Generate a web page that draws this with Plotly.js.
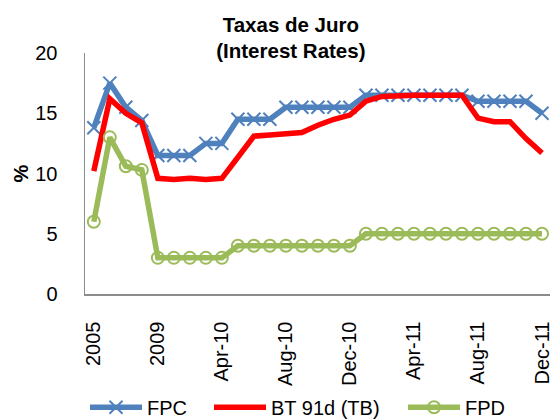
<!DOCTYPE html>
<html>
<head>
<meta charset="utf-8">
<script src="https://cdn.plot.ly/plotly-3.0.1.min.js"></script>
<style>html,body{margin:0;padding:0;background:#fff;}#chart{width:553px;height:419px;}</style>
</head>
<body>
<div id="chart"></div>
<script>
const categories = ['2005','2006','2007','2008','2009',
  'Jan-10','Feb-10','Mar-10','Apr-10','May-10','Jun-10','Jul-10','Aug-10','Sep-10','Oct-10','Nov-10','Dec-10',
  'Jan-11','Feb-11','Mar-11','Apr-11','May-11','Jun-11','Jul-11','Aug-11','Sep-11','Oct-11','Nov-11','Dec-11'];
const fpc = [13.8,17.5,15.5,14.4,11.5,11.5,11.5,12.5,12.5,14.5,14.5,14.5,15.5,15.5,15.5,15.5,15.5,
  16.5,16.5,16.5,16.5,16.5,16.5,16.5,16.0,16.0,16.0,16.0,15.0];
const bt91 = [10.2,16.2,15.0,14.2,9.6,9.5,9.6,9.5,9.6,11.3,13.1,13.2,13.3,13.4,14.0,14.5,14.85,
  16.0,16.4,16.5,16.5,16.5,16.5,16.5,14.6,14.3,14.3,12.9,11.7];
const fpd = [6.0,13.0,10.6,10.3,3.0,3.0,3.0,3.0,3.0,4.0,4.0,4.0,4.0,4.0,4.0,4.0,4.0,
  5.0,5.0,5.0,5.0,5.0,5.0,5.0,5.0,5.0,5.0,5.0,5.0];
const tickLabels = ['2005','2009','Apr-10','Aug-10','Dec-10','Apr-11','Aug-11','Dec-11'];
const yTicks = [0,5,10,15,20];

const FONT = 'Liberation Sans, Arial, sans-serif';
const traces = [
  {x: categories, y: fpc, name: 'FPC', type: 'scatter', mode: 'lines+markers', legend: 'legend',
   line: {color: '#4F81BD', width: 5.5},
   marker: {symbol: 'x-thin', size: 13, color: '#4F81BD', line: {color: '#4F81BD', width: 2}}},
  {x: categories, y: bt91, name: 'BT 91d (TB)', type: 'scatter', mode: 'lines', legend: 'legend2',
   line: {color: '#FF0000', width: 5.5}},
  {x: categories, y: fpd, name: 'FPD', type: 'scatter', mode: 'lines+markers', legend: 'legend3',
   line: {color: '#9BBB59', width: 5.5},
   marker: {symbol: 'circle-open', size: 12, color: '#9BBB59', line: {color: '#9BBB59', width: 2}}}
];
function leg(px) {
  return {orientation: 'h', xref: 'container', yref: 'container', x: px / 553, xanchor: 'left',
          y: 0.028, yanchor: 'middle', font: {family: FONT, size: 20, color: '#000'},
          itemwidth: 52, bgcolor: 'rgba(0,0,0,0)'};
}
const layout = {
  width: 553, height: 419,
  margin: {l: 85, r: 3, t: 53, b: 125},
  paper_bgcolor: '#fff', plot_bgcolor: '#fff',
  font: {family: FONT, size: 20, color: '#000'},
  title: {text: '<b>Taxas de Juro<br>(Interest Rates)</b>', font: {family: FONT, size: 20.5, color: '#000'},
          xref: 'container', x: 0.526, xanchor: 'center', yref: 'container', y: 0.924, yanchor: 'middle'},
  xaxis: {type: 'category', range: [-0.55, 28.5], tickmode: 'array', tickvals: tickLabels, ticktext: tickLabels,
          tickangle: -90, showgrid: false, zeroline: false, showline: true, linecolor: '#8c8c8c', linewidth: 1.5,
          ticks: '', ticklabelstandoff: 18, tickfont: {family: FONT, size: 20, color: '#000'}, fixedrange: true},
  yaxis: {range: [0, 20], tickmode: 'array', tickvals: yTicks, showgrid: false, zeroline: false,
          showline: true, linecolor: '#8c8c8c', linewidth: 1.5, ticks: '', ticklabelstandoff: 22,
          tickfont: {family: FONT, size: 20, color: '#000'},
          title: {text: '<b>%</b>', font: {family: FONT, size: 20, color: '#000'}, standoff: 1}},
  showlegend: true,
  legend: leg(85), legend2: leg(209), legend3: leg(403)
};
Plotly.newPlot('chart', traces, layout, {displayModeBar: false, staticPlot: true});
</script>
</body>
</html>
